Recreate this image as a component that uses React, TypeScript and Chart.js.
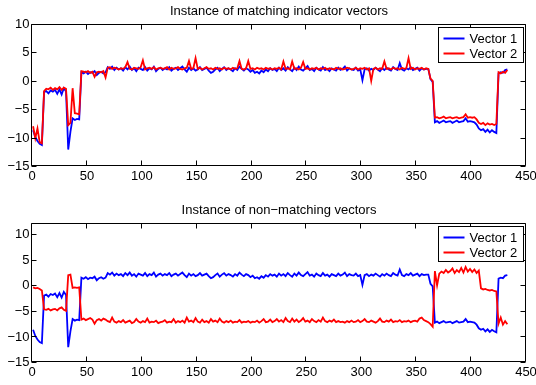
import React, { useEffect, useRef } from "react";
import { Chart, registerables } from "chart.js";

Chart.register(...registerables);

// Samples are plotted against their index (1, 3, 5, ... 433)
const SAMPLE_START = 1;
const SAMPLE_STEP = 2;

const seriesLabels = ["Vector 1", "Vector 2"];
const chartTitles = ["Instance of matching indicator vectors", "Instance of non\u2212matching vectors"];
const xTickValues = [0, 50, 100, 150, 200, 250, 300, 350, 400, 450];
const yTickValues = [-15, -10, -5, 0, 5, 10];

// Vector 1 (same in both panels)
const vector1 = [
  -8.7, -9.9, -10.6, -11.1, -11.3, -2.0, -1.8, -2.2, -1.7, -1.9,
  -1.6, -2.3, -1.5, -2.4, -1.3, -1.9, -12.1, -9.0, -6.6, -6.9,
  -6.7, -6.8, 1.5, 1.3, 1.6, 1.2, 1.5, 1.4, 1.7, 1.0,
  1.4, 1.6, 1.3, 1.5, 2.4, 2.1, 2.5, 1.9, 2.3, 2.0,
  2.2, 1.8, 2.4, 2.0, 2.5, 1.9, 2.2, 1.7, 2.3, 2.1,
  1.9, 2.4, 1.8, 2.2, 2.0, 2.5, 1.7, 2.1, 2.3, 1.9,
  2.2, 2.0, 2.4, 1.8, 2.1, 2.3, 1.9, 2.2, 2.5, 2.0,
  1.6, 2.3, 1.9, 2.2, 1.8, 2.0, 2.4, 1.9, 2.1, 2.3,
  1.8, 1.4, 1.6, 2.0, 2.3, 1.7, 2.1, 2.4, 1.9, 2.2,
  2.0, 1.7, 2.2, 1.9, 2.5, 2.1, 1.8, 2.2, 2.0, 1.6,
  1.9, 1.4, 1.6, 1.3, 1.8, 1.5, 2.0, 1.7, 2.2, 1.9,
  2.1, 1.7, 2.3, 1.9, 2.2, 1.8, 2.4, 2.0, 1.7, 2.3,
  1.9, 2.5, 2.0, 1.8, 2.2, 2.6, 1.9, 2.1, 1.7, 2.3,
  2.0, 1.8, 2.4, 1.9, 2.1, 1.7, 2.2, 2.0, 1.8, 2.3,
  1.9, 2.1, 2.5, 1.8, 2.2, 2.0, 1.9, 2.3, 1.8, 2.0,
  0.1, 2.0, 2.2, 1.8, 2.1, 1.9, 2.3, 2.0, 1.7, 2.2,
  1.9, 2.3, 2.0, 1.8, 2.4, 2.1, 1.9, 3.1, 2.0, 1.8,
  2.2, 2.0, 2.4, 1.9, 2.1, 2.3, 1.8, 2.2, 2.0, 2.1,
  2.1, 0.3, -0.2, -7.3, -7.1, -7.4, -7.2, -7.0, -7.3, -7.2,
  -7.1, -7.4, -7.2, -7.0, -7.3, -7.2, -7.1, -6.6, -7.2, -7.1,
  -7.2, -7.3, -7.7, -8.4, -8.7, -8.5, -9.0, -8.6, -9.1, -8.7,
  -9.0, -9.2, 1.3, 1.5, 1.4, 1.9, 2.0,
];

// Vector 2, matching instance (top panel)
const vector2Matching = [
  -8.0, -10.1, -8.4, -10.8, -11.0, -1.8, -1.4, -1.5, -1.2, -1.6,
  -1.3, -1.5, -1.1, -1.6, -1.2, -1.4, -7.8, -7.4, -1.3, -5.7,
  -5.8, -5.9, 1.7, 1.6, 1.5, 1.7, 1.4, 1.6, 0.7, 1.5,
  1.6, 1.5, 1.7, 0.6, 2.3, 2.4, 2.1, 2.3, 2.2, 2.0,
  2.2, 2.1, 2.4, 3.3, 2.1, 2.0, 2.3, 2.2, 2.1, 2.4,
  3.6, 2.0, 2.2, 2.3, 2.1, 2.4, 2.0, 2.2, 2.3, 2.1,
  2.2, 2.4, 2.0, 2.3, 2.1, 2.2, 2.4, 2.1, 2.0, 2.2,
  2.3, 3.5, 2.1, 2.2, 4.0, 2.1, 2.3, 2.0, 2.2, 2.4,
  2.1, 2.2, 2.0, 2.3, 2.1, 2.2, 2.0, 2.3, 2.1, 2.2,
  2.0, 2.3, 2.1, 2.2, 3.5, 2.1, 2.0, 2.2, 3.5, 2.1,
  2.2, 2.0, 2.3, 2.1, 2.2, 2.0, 2.3, 2.1, 2.2, 2.0,
  2.2, 2.1, 2.3, 2.0, 3.4, 2.1, 2.2, 2.0, 3.4, 2.1,
  2.2, 2.0, 2.3, 3.3, 2.1, 2.2, 2.0, 2.2, 2.1, 2.3,
  2.0, 2.2, 2.1, 2.3, 2.0, 2.2, 2.1, 2.0, 2.3, 2.1,
  2.2, 2.0, 2.1, 2.3, 2.2, 2.0, 2.1, 2.3, 2.0, 2.2,
  2.1, 2.3, 2.0, 2.2, 0.0, 2.1, 2.3, 2.0, 2.2, 2.1,
  3.4, 2.1, 2.2, 2.0, 2.3, 2.1, 2.2, 2.0, 2.3, 2.1,
  2.2, 4.0, 2.1, 2.3, 2.0, 2.2, 2.1, 2.3, 2.0, 2.2,
  2.1, 0.4, 0.0, -6.5, -6.4, -6.6, -6.5, -6.3, -6.6, -6.5,
  -6.4, -6.6, -6.5, -6.4, -6.6, -6.5, -6.4, -5.9, -6.5, -6.4,
  -6.5, -6.4, -6.8, -7.4, -7.6, -7.4, -7.8, -7.5, -7.7, -7.6,
  -7.8, -7.6, 1.5, 1.3, 1.6, 1.4, 1.9,
];

// Vector 2, non-matching instance (bottom panel)
const vector2NonMatching = [
  -0.4, -0.6, -0.5, -0.7, -1.0, -4.7, -4.8, -4.6, -4.9, -4.7,
  -4.6, -4.9, -4.5, -4.3, -4.8, -5.0, 2.0, 2.1, -0.5, -0.4,
  -0.5, -0.4, -6.7, -6.5, -6.8, -6.6, -6.4, -6.7, -7.5, -6.8,
  -6.6, -6.9, -6.5, -6.7, -7.0, -7.2, -6.3, -7.1, -7.3, -7.0,
  -7.2, -6.8, -7.3, -7.1, -6.9, -7.4, -7.2, -6.6, -7.1, -7.3,
  -7.0, -7.2, -6.5, -7.3, -7.1, -7.2, -6.9, -7.4, -7.2, -7.1,
  -6.8, -7.3, -7.1, -7.2, -6.6, -7.3, -7.0, -7.2, -6.9, -7.3,
  -6.3, -7.1, -6.9, -7.2, -6.4, -7.1, -7.3, -6.7, -7.2, -7.0,
  -7.3, -6.6, -7.1, -6.9, -7.2, -6.5, -7.1, -7.3, -7.0, -7.2,
  -6.9, -7.3, -7.1, -7.2, -6.8, -7.3, -7.1, -7.2, -7.0, -7.3,
  -7.1, -7.2, -6.9, -7.3, -7.0, -6.6, -7.2, -7.1, -6.7, -7.2,
  -7.0, -6.6, -7.1, -6.8, -7.2, -6.4, -7.0, -7.2, -6.5, -7.1,
  -6.7, -7.2, -6.9, -6.4, -7.1, -6.9, -7.2, -6.6, -7.0, -7.2,
  -6.8, -7.1, -6.3, -7.0, -7.2, -6.9, -7.1, -6.7, -7.2, -7.0,
  -7.2, -7.1, -7.3, -7.0, -7.2, -6.9, -7.2, -7.1, -6.8, -7.2,
  -7.0, -6.6, -7.1, -7.2, -6.9, -7.1, -7.3, -7.0, -6.5, -7.1,
  -7.2, -6.9, -7.1, -6.7, -7.2, -7.0, -7.1, -6.8, -7.2, -7.0,
  -7.1, -6.9, -7.2, -7.0, -6.9, -7.1, -6.5, -6.3, -6.8, -7.0,
  -7.2, -7.6, -8.1, 2.8, 0.0, 2.3, 2.7, 2.4, 3.0, 2.5,
  2.8, 3.3, 2.4, 3.0, 2.6, 3.4, 2.5, 3.6, 2.7, 3.2,
  2.6, 3.1, 2.4, 2.9, -0.6, -0.8, -0.7, -0.9, -1.0, -0.9,
  -1.1, -1.2, -7.5, -6.3, -7.7, -7.0, -7.6,
];

const BLUE = "#0000ff";
const RED = "#ff0000";
const FONT = '13px "Liberation Sans", Arial, Helvetica, sans-serif';

const fmt = (v: number) => (v < 0 ? "\u2212" + String(-v) : String(v));

const matlabAxes = {
  id: "matlabAxes",
  afterDatasetsDraw(chart: any, _args: any, opts: any) {
    const { ctx, chartArea: a, scales } = chart;
    const xs = scales.x;
    const ys = scales.y;
    const L = Math.round(a.left) - 0.5;
    const R = Math.round(a.right) - 0.5;
    const T = Math.round(a.top) + 0.5;
    const B = Math.round(a.bottom) - 0.5;
    ctx.save();
    ctx.strokeStyle = "#000";
    ctx.lineWidth = 1;
    ctx.beginPath();
    ctx.rect(L, T, R - L, B - T);
    const tl = 5;
    xTickValues.forEach((v) => {
      const px = Math.round(xs.getPixelForValue(v)) - 0.5;
      ctx.moveTo(px, T);
      ctx.lineTo(px, T + tl);
      ctx.moveTo(px, B);
      ctx.lineTo(px, B - tl);
    });
    yTickValues.forEach((v) => {
      const py = Math.round(ys.getPixelForValue(v)) + 0.5;
      ctx.moveTo(L, py);
      ctx.lineTo(L + tl, py);
      ctx.moveTo(R, py);
      ctx.lineTo(R - tl, py);
    });
    ctx.stroke();

    ctx.fillStyle = "#000";
    ctx.font = FONT;
    ctx.textAlign = "center";
    ctx.textBaseline = "top";
    xTickValues.forEach((v) => {
      ctx.fillText(fmt(v), xs.getPixelForValue(v), B + 4);
    });
    ctx.textAlign = "right";
    ctx.textBaseline = "middle";
    yTickValues.forEach((v) => {
      ctx.fillText(fmt(v), L - 2, ys.getPixelForValue(v) + 0.5);
    });

    // title
    ctx.textAlign = "center";
    ctx.textBaseline = "alphabetic";
    ctx.fillText(opts.title, (a.left + a.right) / 2, a.top - 9.5);

    // legend
    const lw = 85;
    const lh = 35;
    const lx = Math.round(a.right - 3 - lw) + 0.5;
    const ly = Math.round(a.top + 3) + 0.5;
    ctx.fillStyle = "#fff";
    ctx.fillRect(lx, ly, lw, lh);
    ctx.strokeStyle = "#000";
    ctx.strokeRect(lx, ly, lw, lh);
    const rows = [ly + 11, ly + 26];
    const colors = [BLUE, RED];
    seriesLabels.forEach((lab, i) => {
      ctx.strokeStyle = colors[i];
      ctx.lineWidth = 2;
      ctx.beginPath();
      ctx.moveTo(lx + 5, rows[i]);
      ctx.lineTo(lx + 26, rows[i]);
      ctx.stroke();
      ctx.fillStyle = "#000";
      ctx.textAlign = "left";
      ctx.textBaseline = "middle";
      ctx.fillText(lab, lx + 31, rows[i] + 0.5);
    });
    ctx.restore();
  },
};

function toPoints(values: number[]) {
  return values.map((y, i) => ({ x: SAMPLE_START + i * SAMPLE_STEP, y }));
}

type PanelProps = {
  title: string;
  v1: number[];
  v2: number[];
  yMax: number;
  height: number;
  padTop: number;
  padBottom: number;
  top: number;
};

function Panel({ title, v1, v2, yMax, height, padTop, padBottom, top }: PanelProps) {
  const ref = useRef<HTMLCanvasElement | null>(null);
  useEffect(() => {
    if (!ref.current) return;
    const chart = new Chart(ref.current, {
      type: "line",
      data: {
        datasets: [
          {
            label: seriesLabels[0],
            data: toPoints(v1),
            borderColor: BLUE,
            backgroundColor: BLUE,
            borderWidth: 1.8,
            pointRadius: 0,
            tension: 0,
            order: 1,
          },
          {
            label: seriesLabels[1],
            data: toPoints(v2),
            borderColor: RED,
            backgroundColor: RED,
            borderWidth: 1.8,
            pointRadius: 0,
            tension: 0,
            order: 0,
          },
        ],
      },
      options: {
        animation: false,
        responsive: false,
        maintainAspectRatio: false,
        events: [],
        layout: { padding: { left: 32, right: 10, top: padTop, bottom: padBottom } },
        plugins: {
          legend: { display: false },
          tooltip: { enabled: false },
          title: { display: false },
          matlabAxes: { title },
        } as any,
        scales: {
          x: { type: "linear", min: 0, max: 450, display: false },
          y: { type: "linear", min: -15, max: yMax, display: false },
        },
      },
      plugins: [matlabAxes as any],
    });
    return () => chart.destroy();
  }, [title, v1, v2, yMax, padTop, padBottom]);
  return (
    <canvas
      ref={ref}
      width={536}
      height={height}
      style={{ position: "absolute", left: 0, top, width: 536, height }}
    />
  );
}

export default function App() {
  return (
    <div
      style={{
        position: "absolute",
        left: 0,
        top: 0,
        width: 536,
        height: 385,
        background: "#fff",
        overflow: "hidden",
      }}
    >
      <Panel title={chartTitles[0]} v1={vector1} v2={vector2Matching} yMax={10} height={195} padTop={24} padBottom={29} top={0} />
      <Panel title={chartTitles[1]} v1={vector1} v2={vector2NonMatching} yMax={12.2} height={190} padTop={28} padBottom={23} top={195} />
    </div>
  );
}
